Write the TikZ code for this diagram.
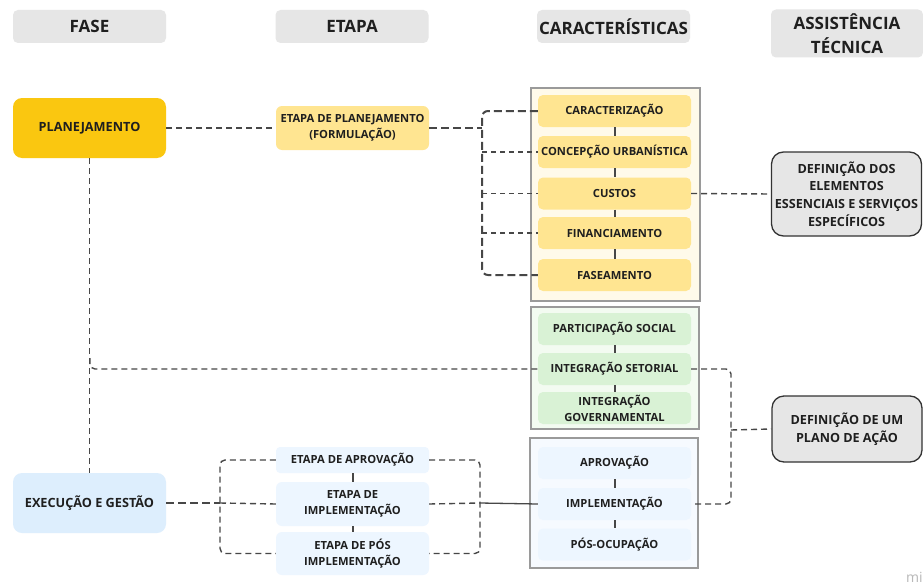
\documentclass[tikz,border=0pt]{standalone}
\usepackage{fontspec}
\setmainfont{Open Sans}
\begin{document}
\begin{tikzpicture}[x=1pt,y=-1pt,
  txt/.style={text=black!88, font=\bfseries\fontsize{11.2}{16}\selectfont, align=center, inner sep=0pt},
  hdr/.style={txt, fill=hdrgray, rounded corners=5pt, minimum width=153pt, minimum height=33pt, font=\bfseries\fontsize{17}{23.5}\selectfont},
  box/.style={txt, rounded corners=6pt, minimum width=153pt},
  item/.style={txt, rounded corners=5pt, minimum width=153pt, minimum height=32pt},
  grp/.style={draw=grpline, line width=1.2pt},
  assist/.style={txt, draw=black!80, line width=1.3pt, fill=hdrgray, rounded corners=12pt, minimum width=150pt, font=\bfseries\fontsize{12.6}{17.6}\selectfont},
  conn/.style={draw=linegray, line width=1.4pt, dash pattern=on 6pt off 4pt},
  connthick/.style={draw=linegray, line width=2pt, dash pattern=on 8pt off 4pt},
  link/.style={draw=linegray, line width=2pt}
]
\definecolor{hdrgray}{HTML}{E6E6E6}
\definecolor{planyel}{HTML}{FAC710}
\definecolor{ltyel}{HTML}{FFE591}
\definecolor{yelgrp}{HTML}{FFFAEA}
\definecolor{ltgreen}{HTML}{D9F2D5}
\definecolor{greengrp}{HTML}{F3FBF1}
\definecolor{exblue}{HTML}{DDEEFD}
\definecolor{ltblue}{HTML}{EDF6FF}
\definecolor{bluegrp}{HTML}{F6FAFF}
\definecolor{grpline}{HTML}{9A9A9A}
\definecolor{linegray}{HTML}{474747}

\useasboundingbox[fill=white] (0,0) rectangle (923,586);

% headers
\node[hdr] (hfase) at (89.5,26.5) {FASE};
\node[hdr] (hetapa) at (352,26.5) {ETAPA};
\node[hdr] (hcarac) at (613.5,26.5) {CARACTERÍSTICAS};
\node[hdr, minimum height=48pt, minimum width=152pt] (hassist) at (847,33.5) {ASSISTÊNCIA\\TÉCNICA};

% groups
\node[grp, fill=yelgrp, minimum width=169pt, minimum height=213pt, inner sep=0pt] (gyel) at (615.5,194.5) {};
\node[grp, fill=greengrp, minimum width=168pt, minimum height=122pt, inner sep=0pt] (ggreen) at (615,368) {};
\node[grp, fill=bluegrp, minimum width=168pt, minimum height=130pt, inner sep=0pt] (gblue) at (614,503) {};

% fase
\node[box, fill=planyel, minimum height=60pt, font=\bfseries\fontsize{12.7}{16}\selectfont, rounded corners=9pt] (plan) at (89.5,128) {PLANEJAMENTO};
\node[box, fill=exblue, minimum height=60pt, font=\bfseries\fontsize{12.7}{16}\selectfont, rounded corners=9pt] (exec) at (89.5,503) {EXECUÇÃO E GESTÃO};

% etapas
\node[box, fill=ltyel, minimum height=44pt] (etplan) at (352.5,128) {ETAPA DE PLANEJAMENTO\\(FORMULAÇÃO)};
\node[box, fill=ltblue, minimum height=26pt, rounded corners=4pt] (etaprov) at (352.5,460) {ETAPA DE APROVAÇÃO};
\node[box, fill=ltblue, minimum height=44pt] (etimpl) at (352.5,504) {ETAPA DE\\IMPLEMENTAÇÃO};
\node[box, fill=ltblue, minimum height=43pt] (etpos) at (352.5,553.5) {ETAPA DE PÓS\\IMPLEMENTAÇÃO};

% characteristics
\node[item, fill=ltyel] (caract) at (614.5,111) {CARACTERIZAÇÃO};
\node[item, fill=ltyel] (concep) at (614.5,152) {CONCEPÇÃO URBANÍSTICA};
\node[item, fill=ltyel] (custos) at (614.5,193.5) {CUSTOS};
\node[item, fill=ltyel] (financ) at (614.5,233) {FINANCIAMENTO};
\node[item, fill=ltyel] (fasea) at (614.5,275) {FASEAMENTO};

\node[item, fill=ltgreen] (partsoc) at (614.5,329) {PARTICIPAÇÃO SOCIAL};
\node[item, fill=ltgreen] (intset) at (614.5,369) {INTEGRAÇÃO SETORIAL};
\node[item, fill=ltgreen] (intgov) at (614.5,408) {INTEGRAÇÃO\\GOVERNAMENTAL};

\node[item, fill=ltblue] (aprov) at (614.5,463) {APROVAÇÃO};
\node[item, fill=ltblue] (impl) at (614.5,504) {IMPLEMENTAÇÃO};
\node[item, fill=ltblue] (posoc) at (614.5,544.5) {PÓS-OCUPAÇÃO};

% assistance
\node[assist, minimum height=84pt] (def1) at (846.5,194) {DEFINIÇÃO DOS\\ELEMENTOS\\ESSENCIAIS E SERVIÇOS\\ESPECÍFICOS};
\node[assist, minimum height=66pt] (def2) at (847,429) {DEFINIÇÃO DE UM\\PLANO DE AÇÃO};

% solid links inside groups
\foreach \a/\b in {caract/concep, concep/custos, custos/financ, financ/fasea, partsoc/intset, intset/intgov, aprov/impl, impl/posoc, etaprov/etimpl, etimpl/etpos}
  \draw[link] (\a.south) -- (\b.north);

% coordinates
\coordinate (jp) at (482,128);
\coordinate (jpm) at (482,200);
\coordinate (jv) at (90,368);
\coordinate (jvt) at (90,358);
\coordinate (je) at (220,503);
\coordinate (jr) at (480,503);
\coordinate (ja) at (731,430);
\coordinate (jam) at (731,440);

% planning
\draw[conn] (plan.east) -- (etplan.west);
\draw[connthick] (etplan.east) -- (jp);
\draw[connthick, rounded corners=6pt] (caract.west) -| (jpm) |- (fasea.west);
\draw[conn, line width=1.2pt, dash pattern=on 5pt off 4pt] (482,152) -- (concep.west);
\draw[conn, line width=1.2pt, dash pattern=on 5pt off 4pt] (482,193.5) -- (custos.west);
\draw[conn, line width=1.2pt, dash pattern=on 5pt off 4pt] (482,233) -- (financ.west);
\draw[conn] (custos.east) -- (def1.west);

% vertical fase link
\draw[conn] (plan.south) -- (exec.north);
\draw[conn, rounded corners=5pt] (jvt) |- (intset.west);

% execution
\draw[connthick, line width=1.6pt] (exec.east) -- (je);
\draw[conn, rounded corners=5pt] (etaprov.west) -| (je) |- (etpos.west);
\draw[conn] (je) -- (etimpl.west);
\draw[conn, rounded corners=5pt] (etaprov.east) -| (jr) |- (etpos.east);
\draw[conn] (etimpl.east) -- (jr);
\draw[draw=linegray, line width=1.3pt] (jr) -- (impl.west);

% action plan
\draw[conn, rounded corners=5pt] (intset.east) -| (jam) |- (impl.east);
\draw[conn] (ja) -- (def2.west);

% watermark
\node[text=black!28, font=\fontsize{14}{14}\selectfont, anchor=base west, inner sep=0pt] (wm) at (906,582) {mi};
\end{tikzpicture}
\end{document}
